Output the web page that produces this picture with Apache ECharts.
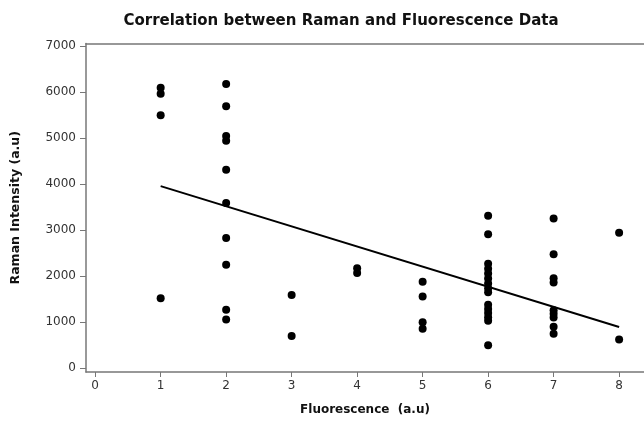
<!DOCTYPE html>
<html>
<head>
<meta charset="utf-8">
<script src="https://cdn.jsdelivr.net/npm/echarts@6/dist/echarts.min.js"></script>
<style>
  html, body { margin: 0; padding: 0; background: #fff; }
  #chart { width: 644px; height: 427px; }
</style>
</head>
<body>
<div id="chart"></div>
<script>
// fluorescence level (x) and raman intensity (y) for each sample
const fluorescence = [
  1, 1, 1, 1,
  2, 2, 2, 2, 2, 2, 2, 2, 2, 2,
  3, 3,
  4, 4,
  5, 5, 5, 5,
  6, 6, 6, 6, 6, 6, 6, 6, 6, 6, 6, 6, 6, 6, 6,
  7, 7, 7, 7, 7, 7, 7, 7, 7,
  8, 8
];
const raman = [
  6090, 5960, 5490, 1520,
  6170, 5690, 5040, 4940, 4310, 3590, 2830, 2250, 1270, 1060,
  1590, 700,
  2170, 2070,
  1880, 1560, 1000, 860,
  3310, 2910, 2270, 2160, 2060, 1950, 1840, 1740, 1650, 1380, 1290, 1200, 1110, 1030, 500,
  3250, 2475, 1955, 1860, 1260, 1185, 1105, 900, 750,
  2945, 625
];
// fitted line end points
const fitX = [1, 8];
const fitY = [3955, 896];

const xTicks = [0, 1, 2, 3, 4, 5, 6, 7, 8];
const yTicks = [0, 1000, 2000, 3000, 4000, 5000, 6000, 7000];

const points = fluorescence.map((x, i) => [x, raman[i]]);
const fitLine = fitX.map((x, i) => [x, fitY[i]]);

const axisColor = '#777';
const font = 'DejaVu Sans';

const chart = echarts.init(document.getElementById('chart'));
chart.setOption({
  animation: false,
  title: {
    text: 'Correlation between Raman and Fluorescence Data',
    left: 336,
    textAlign: 'center',
    top: 9,
    textStyle: { fontFamily: font, fontSize: 15, fontWeight: 'bold', color: '#111' }
  },
  grid: { left: 86, right: 0, top: 43.5, bottom: 55 },
  xAxis: [
    {
      type: 'value',
      min: -0.14,
      max: 8.38,
      name: 'Fluorescence  (a.u)',
      nameLocation: 'middle',
      nameGap: 32,
      nameTextStyle: { fontFamily: font, fontSize: 12, fontWeight: 'bold', color: '#111' },
      axisLine: { show: true, onZero: false, lineStyle: { color: axisColor, width: 1.5 } },
      axisTick: { show: true, length: 5, customValues: xTicks, lineStyle: { color: axisColor } },
      axisLabel: { customValues: xTicks, fontFamily: font, fontSize: 12, color: '#333', margin: 8 },
      splitLine: { show: false }
    },
    {
      type: 'value',
      position: 'top',
      min: -0.14,
      max: 8.38,
      axisLine: { show: true, onZero: false, lineStyle: { color: axisColor, width: 1.5 } },
      axisTick: { show: false },
      axisLabel: { show: false },
      splitLine: { show: false }
    }
  ],
  yAxis: {
    type: 'value',
    min: -80,
    max: 7050,
    name: 'Raman Intensity (a.u)',
    nameLocation: 'middle',
    nameGap: 64,
    nameTextStyle: { fontFamily: font, fontSize: 12.5, fontWeight: 'bold', color: '#111' },
    axisLine: { show: true, onZero: false, lineStyle: { color: axisColor, width: 1.5 } },
    axisTick: { show: true, length: 6, customValues: yTicks, lineStyle: { color: axisColor } },
    axisLabel: {
      customValues: yTicks,
      formatter: (v) => String(v),
      fontFamily: font, fontSize: 12, color: '#333', margin: 10
    },
    splitLine: { show: false }
  },
  series: [
    {
      type: 'scatter',
      data: points,
      symbolSize: 8,
      itemStyle: { color: '#000', opacity: 1 }
    },
    {
      type: 'line',
      data: fitLine,
      symbol: 'none',
      lineStyle: { color: '#000', width: 2 }
    }
  ]
});
</script>
</body>
</html>
